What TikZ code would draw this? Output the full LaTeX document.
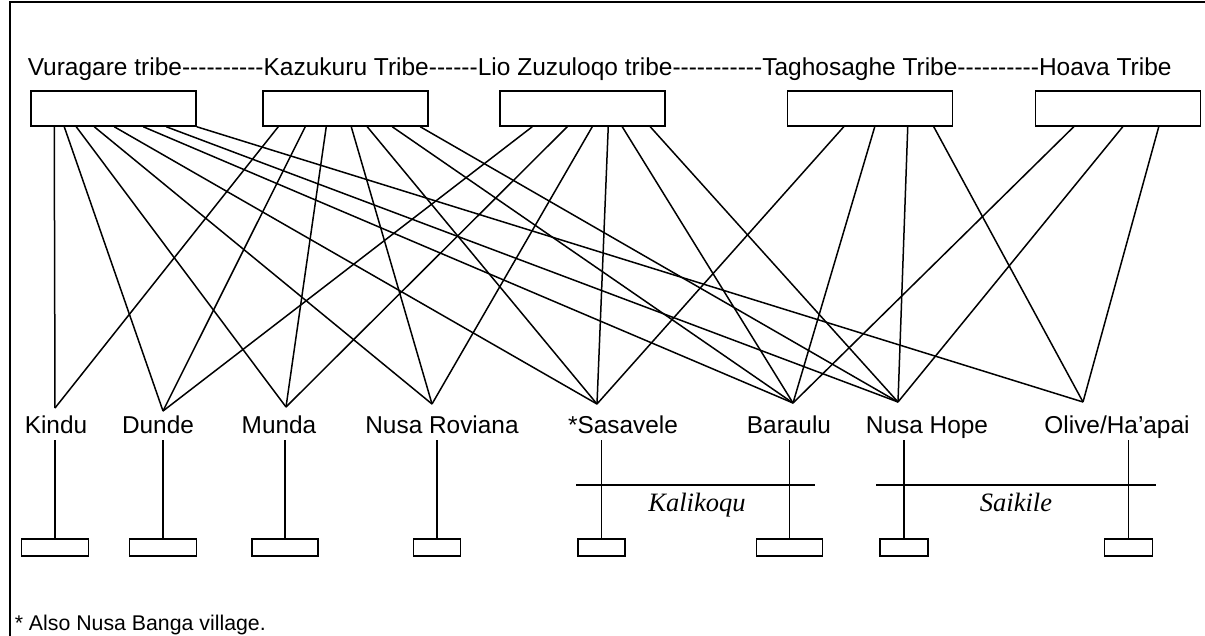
\documentclass[tikz,border=0pt]{standalone}
\usepackage{fontspec}
\setmainfont{Liberation Sans}
\newfontfamily\timesfont{Liberation Serif}
\newcommand\dashrun[1]{\foreach\d in {1,...,#1}{\mbox{-}}}
\begin{document}
\begin{tikzpicture}[x=1pt,y=-1pt,line width=1.5pt,
    tribe/.style={draw,minimum width=165pt,minimum height=35pt,inner sep=0pt},
    village/.style={anchor=base,inner sep=0pt,text depth=6pt,font=\fontsize{24.4}{28}\selectfont},
    plot/.style={draw,minimum height=17pt,inner sep=0pt},
    clan/.style={anchor=base,inner sep=0pt,font=\timesfont\itshape\fontsize{26.5}{30}\selectfont}]
  \useasboundingbox (0,0) rectangle (1205,635);
  \draw (10,640) -- (10,2) -- (1210,2);

  % tribes
  \node[anchor=base west,inner sep=0pt,font=\fontsize{24.5}{28}\selectfont] (tribes) at (27,75)
    {Vuragare tribe\dashrun{10}Kazukuru Tribe\dashrun{6}Lio Zuzuloqo tribe\dashrun{11}Taghosaghe Tribe\dashrun{10}Hoava Tribe};
  \node[tribe] (vuragare) at (113.5,108.5) {};
  \node[tribe] (kazukuru) at (345.5,108.5) {};
  \node[tribe] (lio) at (582.5,108.5) {};
  \node[tribe] (tagho) at (870,108.5) {};
  \node[tribe] (hoava) at (1118,108.5) {};

  % villages
  \node[village] (kindu) at (56,433) {Kindu};
  \node[village] (dunde) at (158,433) {Dunde};
  \node[village] (munda) at (279,433) {Munda};
  \node[village] (roviana) at (442,433) {Nusa Roviana};
  \node[village] (sasavele) at (623,433) {*Sasavele};
  \node[village] (baraulu) at (789,433) {Baraulu};
  \node[village] (hope) at (927,433) {Nusa Hope};
  \node[village] (olive) at (1117,433) {Olive/Ha’apai};

  \coordinate (kindutop) at (55,408);
  \coordinate (dundetop) at (163,411);
  \coordinate (mundatop) at (286,407);
  \coordinate (rovianatop) at (432,404);
  \coordinate (sasaveletop) at (597,404);
  \coordinate (baraulutop) at (793,403);
  \coordinate (hopetop) at (898,402);
  \coordinate (olivetop) at (1083,402);

  \begin{scope}[-]
    \draw ([xshift=24pt]vuragare.south west) to (kindutop);
    \draw ([xshift=34pt]vuragare.south west) to (dundetop);
    \draw ([xshift=46pt]vuragare.south west) to (mundatop);
    \draw ([xshift=64pt]vuragare.south west) to (rovianatop);
    \draw ([xshift=84pt]vuragare.south west) to (sasaveletop);
    \draw ([xshift=113pt]vuragare.south west) to (baraulutop);
    \draw ([xshift=136pt]vuragare.south west) to (hopetop);
    \draw (vuragare.south east) to (olivetop);
    \draw ([xshift=16pt]kazukuru.south west) to (kindutop);
    \draw ([xshift=43pt]kazukuru.south west) to (dundetop);
    \draw ([xshift=64pt]kazukuru.south west) to (mundatop);
    \draw ([xshift=89pt]kazukuru.south west) to (rovianatop);
    \draw ([xshift=105pt]kazukuru.south west) to (sasaveletop);
    \draw ([xshift=130pt]kazukuru.south west) to (baraulutop);
    \draw ([xshift=158pt]kazukuru.south west) to (hopetop);
    \draw ([xshift=33pt]lio.south west) to (dundetop);
    \draw ([xshift=68pt]lio.south west) to (mundatop);
    \draw ([xshift=93pt]lio.south west) to (rovianatop);
    \draw ([xshift=109pt]lio.south west) to (sasaveletop);
    \draw ([xshift=123pt]lio.south west) to (baraulutop);
    \draw ([xshift=151pt]lio.south west) to (hopetop);
    \draw ([xshift=57pt]tagho.south west) to (sasaveletop);
    \draw ([xshift=88pt]tagho.south west) to (baraulutop);
    \draw ([xshift=121pt]tagho.south west) to (hopetop);
    \draw ([xshift=147pt]tagho.south west) to (olivetop);
    \draw ([xshift=39pt]hoava.south west) to (baraulutop);
    \draw ([xshift=88pt]hoava.south west) to (hopetop);
    \draw ([xshift=124pt]hoava.south west) to (olivetop);
  \end{scope}

  % land plots
  \node[plot,minimum width=67pt] (kindubox) at (55,547.5) {};
  \node[plot,minimum width=67pt] (dundebox) at (163,547.5) {};
  \node[plot,minimum width=66pt] (mundabox) at (285,547.5) {};
  \node[plot,minimum width=47pt] (rovianabox) at (437,547.5) {};
  \node[plot,minimum width=47pt] (sasavelebox) at (601.5,547.5) {};
  \node[plot,minimum width=66pt] (baraulubox) at (789.5,547.5) {};
  \node[plot,minimum width=48pt] (hopebox) at (904,547.5) {};
  \node[plot,minimum width=48pt] (olivebox) at (1128.5,547.5) {};
  \foreach \v in {kindu,dunde,munda,roviana,sasavele,baraulu,hope,olive}
    \draw (\v box.north) -- (\v box.north |- \v.south);

  \coordinate (kalileft) at (576,485);
  \coordinate (kaliright) at (815,485);
  \draw (kalileft) -- (kaliright);
  \node[clan] (kalikoqu) at (697,511) {Kalikoqu};
  \coordinate (saileft) at (876,485);
  \coordinate (sairight) at (1156,485);
  \draw (saileft) -- (sairight);
  \node[clan] (saikile) at (1016,511) {Saikile};

  \node[anchor=base west,inner sep=0pt,font=\fontsize{21.3}{25}\selectfont] (note) at (14,630)
    {* Also Nusa Banga village.};
\end{tikzpicture}
\end{document}
